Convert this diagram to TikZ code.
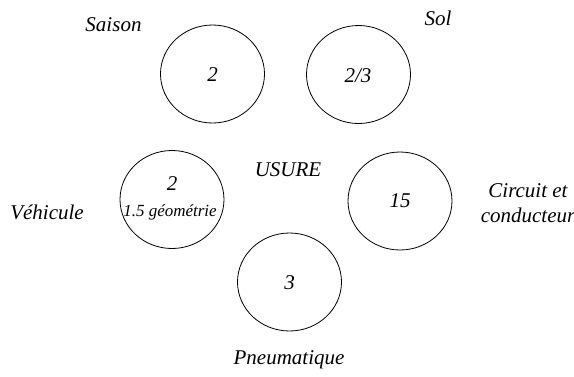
\documentclass[tikz,border=0pt]{standalone}
\usepackage{fontspec}
\setmainfont{Liberation Serif}
\newfontfamily\tms{Liberation Serif}
\usetikzlibrary{shapes.geometric}
\tikzset{
  ring/.style={draw, ellipse, line width=0.8pt, minimum width=104pt, minimum height=98pt, inner sep=0pt},
  lab/.style={font=\tms\fontsize{21}{25}\selectfont\itshape, inner sep=0pt, align=center},
  small/.style={font=\tms\fontsize{17}{20}\selectfont\itshape, inner sep=0pt}
}
\begin{document}
\begin{tikzpicture}[x=1pt,y=-1pt]
\useasboundingbox (0,0) rectangle (574,376);
\node[ring] (saison) at (212.5,74) {};
\node[ring] (sol) at (358.5,74.5) {};
\node[ring] (vehic) at (172,199.5) {};
\node[ring] (circuit) at (400,201) {};
\node[ring] (pneu) at (289.5,282) {};
\node[lab] (tsaison) at (212.5,75) {2};
\node[lab] (tsol) at (358,76) {2/3};
\node[lab] (tveh) at (172,184) {2};
\node[small] (tgeo) at (170,212) {1.5 géométrie};
\node[lab] (tcirc) at (400,201) {15};
\node[lab] (tpneu) at (289.5,283) {3};
\node[lab] (lsaison) at (113.5,25) {Saison};
\node[lab] (lsol) at (438,18) {Sol};
\node[lab] (usure) at (288,170) {USURE};
\node[lab] (lveh) at (47,212) {Véhicule};
\node[lab, font=\tms\fontsize{21}{25}\selectfont\itshape] (lcirc) at (528,203) {Circuit et\\conducteur};
\node[lab] (lpneu) at (289,360) {Pneumatique};
\end{tikzpicture}
\end{document}
